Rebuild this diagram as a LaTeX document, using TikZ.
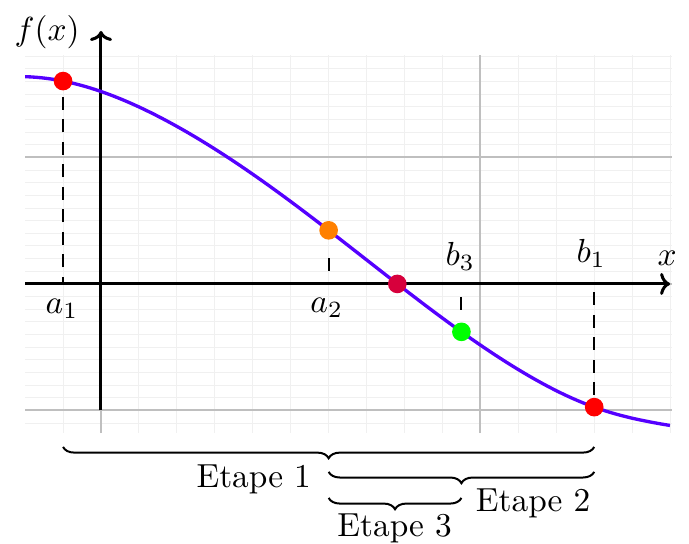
\documentclass[tikz,border=0pt]{standalone}
\usepackage{tikz}
\usetikzlibrary{arrows.meta,decorations.pathreplacing}
\definecolor{courbe}{RGB}{85,0,255}
\definecolor{racine}{RGB}{215,0,60}
\tikzset{
  grille/.style={gray!12, line width=0.3pt},
  grillemaj/.style={gray!50, line width=0.6pt},
  axe/.style={line width=0.9pt, -{To[length=3pt,width=6.6pt]}},
  proj/.style={line width=0.6pt, dash pattern=on 3.9pt off 2.85pt},
  demiproj/.style={line width=0.6pt, dash pattern=on 0pt off 3.9pt on 3.9pt off 20pt},
  pastille/.style={circle, inner sep=0pt, minimum size=5.6pt, fill=#1},
  accol/.style={semithick, decorate, decoration={brace, mirror, amplitude=3.4pt}},
  etape/.style={anchor=base}
}

\begin{document}
\begin{tikzpicture}[x=4cm, y=4cm/3,
  declare function={fc(\t)=0.19+1.38*cos(deg(1.7*(\t+0.224)))
    +0.07*exp(0-((\t+0.2)/0.35)*((\t+0.2)/0.35))
    +0.04*exp(0-((\t-1.5)/0.18)*((\t-1.5)/0.18));}]
  \useasboundingbox (-0.2662,-2.055) rectangle (1.5498,2.245);

  % grille
  \draw[grille] (-0.2,-1.18) grid[xstep=0.1, ystep=0.1] (1.505,1.81);
  \draw[grillemaj] (-0.2,-1.18) grid[xstep=1, ystep=1] (1.505,1.81);

  % axes
  \coordinate (xg) at (-0.2,0);
  \coordinate (xd) at (1.5,0);
  \coordinate (yb) at (0,-1);
  \coordinate (yh) at (0,2);
  \draw[axe] (xg) -- (xd);
  \draw[axe] (yb) -- (yh);
  \node (fx) at (-0.142,1.99) {$f(x)$};
  \node (xx) at (1.492,0.205) {$x$};

  % courbe
  \draw[courbe, line width=1pt] plot[domain=-0.2:1.5, samples=120, variable=\t]
    ({\t}, {fc(\t)});

  % points
  \node[pastille=red] (a1) at (-0.1,{fc(-0.1)}) {};
  \node[pastille=orange] (a2) at (0.6,{fc(0.6)}) {};
  \node[pastille=racine] (r) at (0.781,0) {};
  \node[pastille=green] (b3) at (0.95,{fc(0.95)}) {};
  \node[pastille=red] (b1) at (1.3,{fc(1.3)}) {};

  % projections
  \coordinate (a1x) at (-0.1,0);
  \coordinate (a2x) at (0.6,0);
  \coordinate (b3x) at (0.95,0);
  \coordinate (b1x) at (1.3,0);
  \draw[proj, dash phase=1.8pt] (a1x) -- (a1);
  \draw[proj, dash phase=4.2pt] (b1x) -- (b1);
  \draw[demiproj] (a2x) -- (a2);
  \draw[demiproj] (b3x) -- (b3);

  \node (la1) at (-0.103,-0.198) {$a_1$};
  \node (la2) at (0.595,-0.19) {$a_2$};
  \node (lb3) at (0.947,0.221) {$b_3$};
  \node (lb1) at (1.292,0.245) {$b_1$};

  % accolades
  \coordinate (e1g) at (-0.1,-1.289);
  \coordinate (e1d) at (1.3,-1.289);
  \coordinate (e2g) at (0.6,-1.486);
  \coordinate (e2d) at (1.3,-1.486);
  \coordinate (e3g) at (0.6,-1.692);
  \coordinate (e3d) at (0.95,-1.692);
  \draw[accol] (e1g) -- (e1d);
  \draw[accol] (e2g) -- (e2d);
  \draw[accol] (e3g) -- (e3d);
  \node[etape] (t1) at (0.4026,-1.613) {Etape 1};
  \node[etape] (t2) at (1.139,-1.802) {Etape 2};
  \node[etape] (t3) at (0.774,-2.0) {Etape 3};
\end{tikzpicture}
\end{document}
